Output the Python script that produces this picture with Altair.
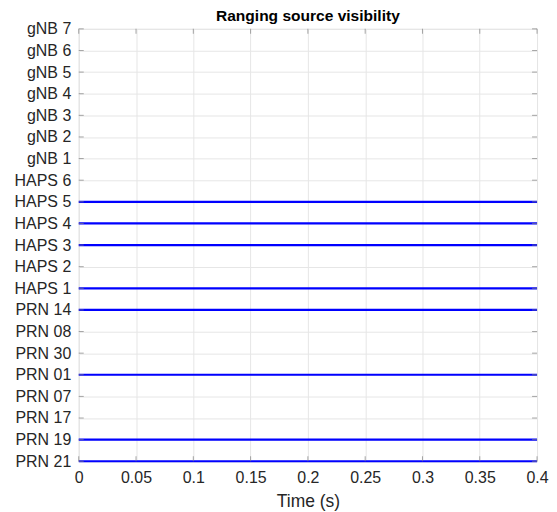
import altair as alt
import pandas as pd

sources = ["PRN 21", "PRN 19", "PRN 17", "PRN 07", "PRN 01", "PRN 30", "PRN 08", "PRN 14",
           "HAPS 1", "HAPS 2", "HAPS 3", "HAPS 4", "HAPS 5", "HAPS 6",
           "gNB 1", "gNB 2", "gNB 3", "gNB 4", "gNB 5", "gNB 6", "gNB 7"]
visible = ["PRN 21", "PRN 19", "PRN 01", "PRN 14", "HAPS 1", "HAPS 3", "HAPS 4", "HAPS 5"]
time_start = 0.0
time_end = 0.4
x_ticks = [0, 0.05, 0.1, 0.15, 0.2, 0.25, 0.3, 0.35, 0.4]

W, H = 460, 434
FONT = "Liberation Sans"

rows = []
for s in visible:
    idx = sources.index(s) + 1
    rows.append({"src": s, "t": time_start, "y": idx})
    rows.append({"src": s, "t": time_end, "y": idx})
df = pd.DataFrame(rows)

label_arr = "[" + ",".join("'" + s + "'" for s in sources) + "]"

xscale = alt.Scale(domain=[0, 0.4], nice=False, zero=False)
yscale = alt.Scale(domain=[1, len(sources)], nice=False, zero=False)

base_axis = dict(labelFont=FONT, titleFont=FONT, labelColor="#262626", titleColor="#262626",
                 domain=False, ticks=False, gridColor="#e6e6e6", gridWidth=1,
                 labelOverlap=False, titleFontWeight="normal")

x_axis = alt.Axis(values=x_ticks, labelFontSize=16, titleFontSize=17.5, labelPadding=8,
                  titlePadding=7, labelFlush=False, format="~g", **base_axis)
y_axis = alt.Axis(values=list(range(1, len(sources) + 1)),
                  labelExpr=label_arr + "[datum.value-1]",
                  labelFontSize=16, labelPadding=8, minExtent=71, maxExtent=71, **base_axis)

lines = alt.Chart(df).mark_line(color="#0000ff", strokeWidth=2.2).encode(
    x=alt.X("t:Q", scale=xscale, title="Time (s)", axis=x_axis),
    y=alt.Y("y:Q", scale=yscale, title=None, axis=y_axis),
    detail="src:N",
)

xt = pd.DataFrame({"v": x_ticks})
yt = pd.DataFrame({"v": list(range(1, len(sources) + 1))})
tick_color = "#808080"
xb = alt.Chart(xt).mark_tick(color=tick_color, size=5, thickness=1).encode(
    x=alt.X("v:Q", scale=xscale, title="Time (s)", axis=x_axis), y=alt.value(H - 2.5))
xtop = alt.Chart(xt).mark_tick(color=tick_color, size=5, thickness=1).encode(
    x=alt.X("v:Q", scale=xscale, title="Time (s)", axis=x_axis), y=alt.value(2.5))
yl = alt.Chart(yt).mark_tick(color=tick_color, size=5, thickness=1, orient="horizontal").encode(
    y=alt.Y("v:Q", scale=yscale, title=None, axis=y_axis), x=alt.value(2.5))
yr = alt.Chart(yt).mark_tick(color=tick_color, size=5, thickness=1, orient="horizontal").encode(
    y=alt.Y("v:Q", scale=yscale, title=None, axis=y_axis), x=alt.value(W - 2.5))

chart = alt.layer(lines, xb, xtop, yl, yr).properties(
    width=W, height=H,
    title=alt.TitleParams("Ranging source visibility", font=FONT, fontSize=15.6, fontWeight="bold",
                          color="#000000", anchor="middle", offset=-4),
    padding={"left": 0, "top": 0, "right": 0, "bottom": 0},
).configure_view(stroke="#808080", strokeWidth=1).configure(background="white")

chart.save("out.html", embed_options={"renderer": "svg", "actions": False})
